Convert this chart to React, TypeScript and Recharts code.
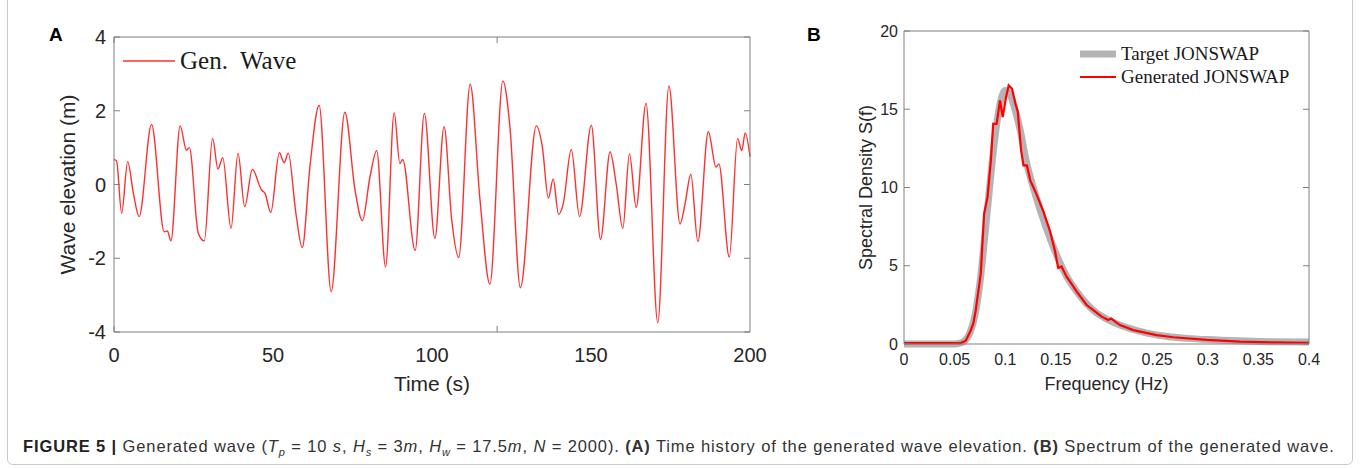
import { LineChart, Line, XAxis, YAxis, Label } from "recharts";

// (A) wave elevation time history at each crest / trough / shoulder
const waveTime = [
  0, 0.8, 2.4, 4.3, 6.1, 7.9, 11.8, 15.8, 16.8, 17.9, 20.8, 22.8, 23.7, 26.5, 28.4, 31.0, 32.7, 34.2,
  36.8, 39.0, 41.1, 43.5, 46.4, 47.5, 49.3, 52.0, 53.5, 54.8, 57.2, 59.2, 61.6, 64.5, 68.3, 72.6, 75.8,
  78.1, 80.5, 82.6, 85.4, 88.1, 89.9, 90.8, 94.7, 97.6, 100.9, 103.8, 106.2, 108.4, 112.0, 115.1, 118.2,
  122.3, 124.5, 127.8, 132.8, 134.7, 136.6, 138.1, 139.8, 141.3, 143.8, 146.4, 150.1, 153.0, 156.0, 157.9,
  160.0, 162.1, 164.2, 167.3, 171.0, 174.5, 178.0, 179.6, 181.4, 183.6, 186.9, 189.3, 190.2, 193.5, 196.1,
  197.4, 198.5, 200,
];
const waveElevation = [
  0.68, 0.64, -0.78, 0.62, -0.24, -0.87, 1.63, -1.28, -1.26, -1.53, 1.59, 0.93, 1.0, -1.32, -1.53, 1.25, 0.42, 0.73,
  -1.19, 0.85, -0.6, 0.41, -0.15, -0.24, -0.76, 0.86, 0.59, 0.85, -0.78, -1.71, 0.48, 2.15, -2.9, 1.96, -0.15,
  -0.98, 0.21, 0.92, -2.24, 1.95, 0.57, 0.68, -1.79, 1.93, -1.46, 1.57, -0.96, -1.98, 2.72, -0.42, -2.7,
  2.81, 1.57, -2.8, 1.59, 1.02, -0.37, 0.15, -0.81, -0.51, 0.95, -0.87, 1.61, -1.49, 0.89, 0.03,
  -1.19, 0.83, -0.62, 2.2, -3.75, 2.67, -1.07, -0.51, 0.28, -1.55, 1.43, 0.47, 0.56, -1.97, 1.25,
  0.92, 1.4, 0.75,
];
const timeTicks = [0, 50, 100, 150, 200];
const elevationTicks = [-4, -2, 0, 2, 4];

// (B) spectra
const targetFreq = [
  0, 0.05, 0.055, 0.06, 0.065, 0.07, 0.075, 0.08, 0.085, 0.09, 0.095, 0.1, 0.105, 0.11, 0.115, 0.12,
  0.13, 0.14, 0.15, 0.16, 0.17, 0.18, 0.19, 0.2, 0.22, 0.24, 0.26, 0.28, 0.3, 0.33, 0.36, 0.4,
];
const targetDensity = [
  0, 0, 0.05, 0.2, 0.7, 1.8, 3.9, 7.0, 10.3, 13.3, 15.4, 16.2, 15.9, 14.9, 13.6, 11.9,
  9.5, 7.5, 5.8, 4.4, 3.4, 2.6, 2.0, 1.6, 1.05, 0.7, 0.48, 0.36, 0.28, 0.2, 0.15, 0.12,
];
const genFreq = [
  0, 0.05, 0.056, 0.061, 0.0658, 0.0685, 0.0708, 0.0758, 0.0791, 0.0825, 0.0858, 0.0881, 0.0915, 0.0948,
  0.0975, 0.1008, 0.1034, 0.1067, 0.1101, 0.1124, 0.1157, 0.118, 0.1214, 0.1247, 0.1307, 0.1373, 0.144,
  0.149, 0.1523, 0.1556, 0.1606, 0.164, 0.1706, 0.1804, 0.187, 0.1952, 0.2018, 0.2045, 0.2133, 0.2265,
  0.2495, 0.266, 0.299, 0.332, 0.365, 0.4,
];
const genDensity = [
  0.05, 0.05, 0.06, 0.21, 0.85, 1.32, 2.13, 4.48, 8.32, 9.38, 11.73, 14.07, 14.07, 15.57,
  14.5, 15.78, 16.52, 16.31, 15.35, 14.82, 12.37, 11.41, 11.41, 10.45, 9.59, 8.53, 7.25,
  5.97, 4.86, 4.95, 4.3, 3.98, 3.34, 2.49, 2.17, 1.75, 1.53, 1.62, 1.21, 0.89,
  0.57, 0.43, 0.26, 0.15, 0.1, 0.08,
];
const freqTicks = [0, 0.05, 0.1, 0.15, 0.2, 0.25, 0.3, 0.35, 0.4];
const densityTicks = [0, 5, 10, 15, 20];

const waveData = waveTime.map((t, i) => ({ t, eta: waveElevation[i] }));
const targetData = targetFreq.map((f, i) => ({ f, s: targetDensity[i] }));
const genData = genFreq.map((f, i) => ({ f, s: genDensity[i] }));

const SANS = "'Liberation Sans', Arial, Helvetica, sans-serif";
const SERIF = "'Liberation Serif', 'Times New Roman', serif";
const axisStroke = { stroke: "#808080", strokeWidth: 1 };
const blank = () => "";

// MATLAB-style box: labelled axes outside, mirrored copies draw the inward ticks on all 4 sides
function boxAxes(xDomain: number[], xTicks: number[], yDomain: number[], yTicks: number[]) {
  const common = { type: "number" as const, allowDataOverflow: true, tickFormatter: blank, tickSize: 6, mirror: true, tickLine: axisStroke };
  return [
    <XAxis key="xb" xAxisId="xin" orientation="bottom" domain={xDomain} ticks={xTicks} height={6} axisLine={false} {...common} />,
    <XAxis key="xt" xAxisId="xtop" orientation="top" domain={xDomain} ticks={xTicks} height={6} axisLine={axisStroke} {...common} />,
    <YAxis key="yl" yAxisId="yin" orientation="left" domain={yDomain} ticks={yTicks} width={6} axisLine={false} {...common} />,
    <YAxis key="yr" yAxisId="yright" orientation="right" domain={yDomain} ticks={yTicks} width={6} axisLine={axisStroke} {...common} />,
  ];
}

function WavePanel() {
  const tick = { fill: "#262626", fontSize: 20, fontFamily: SANS };
  return (
    <LineChart width={780} height={440} data={waveData} margin={{ top: 37, right: 30, bottom: 4, left: 22 }}>
      <XAxis dataKey="t" type="number" domain={[0, 200]} ticks={timeTicks} height={104}
        tick={tick} tickSize={0} tickMargin={16} axisLine={axisStroke} tickLine={false}>
        <Label value="Time (s)" position="center" style={{ fill: "#262626", fontSize: 21, fontFamily: SANS }} />
      </XAxis>
      <YAxis type="number" domain={[-4, 4]} ticks={elevationTicks} width={92}
        tick={tick} tickSize={0} tickMargin={8} axisLine={axisStroke} tickLine={false}>
        <Label value="Wave elevation (m)" angle={-90} position="center" style={{ fill: "#262626", fontSize: 21, fontFamily: SANS }} />
      </YAxis>
      {boxAxes([0, 200], timeTicks, [-4, 4], elevationTicks)}
      <Line type="monotone" dataKey="eta" stroke="#ff3030" strokeWidth={1.4} dot={false} isAnimationActive={false} />
    </LineChart>
  );
}

function SpectrumPanel() {
  const tick = { fill: "#262626", fontSize: 16, fontFamily: SANS };
  return (
    <LineChart width={550} height={428} margin={{ top: 31, right: 31, bottom: 4, left: 38 }}>
      <XAxis dataKey="f" type="number" domain={[0, 0.4]} ticks={freqTicks} height={80}
        tick={tick} tickSize={0} tickMargin={10} axisLine={axisStroke} tickLine={false}>
        <Label value="Frequency (Hz)" position="center" style={{ fill: "#262626", fontSize: 18, fontFamily: SANS }} />
      </XAxis>
      <YAxis type="number" domain={[0, 20]} ticks={densityTicks} width={76}
        tick={tick} tickSize={0} tickMargin={6} axisLine={axisStroke} tickLine={false}>
        <Label value="Spectral Density S(f)" angle={-90} position="center" style={{ fill: "#262626", fontSize: 18, fontFamily: SANS }} />
      </YAxis>
      {boxAxes([0, 0.4], freqTicks, [0, 20], densityTicks)}
      <Line data={targetData} type="monotone" dataKey="s" stroke="#b4b4b4" strokeWidth={7} dot={false} isAnimationActive={false} />
      <Line data={genData} type="linear" dataKey="s" stroke="#ff0000" strokeWidth={2.2} dot={false} isAnimationActive={false} />
    </LineChart>
  );
}

const legendText = { position: "absolute" as const, fontFamily: SERIF, color: "#1a1a1a", whiteSpace: "nowrap" as const, lineHeight: 1 };
const subStyle = { fontSize: 11 };

export default function App() {
  return (
    <div style={{ position: "absolute", left: 0, top: 0, width: 1360, height: 469, background: "#fff", overflow: "hidden" }}>
      <div style={{ position: "absolute", left: 7, top: -10, width: 1346, height: 475, boxSizing: "border-box", border: "1px solid #c9c9c9", borderRadius: 6 }} />

      <div style={{ position: "absolute", left: 0, top: 0 }}><WavePanel /></div>
      <div style={{ position: "absolute", left: 790, top: 0 }}><SpectrumPanel /></div>

      <div style={{ position: "absolute", left: 49, top: 24, fontFamily: SANS, fontWeight: 700, fontSize: 19 }}>A</div>
      <div style={{ position: "absolute", left: 807, top: 24, fontFamily: SANS, fontWeight: 700, fontSize: 19 }}>B</div>

      {/* legend A */}
      <svg style={{ position: "absolute", left: 120, top: 56 }} width={60} height={10}>
        <line x1={3} y1={5} x2={55} y2={5} stroke="#ff3030" strokeWidth={1.4} />
      </svg>
      <div style={{ ...legendText, left: 180, top: 48, fontSize: 25 }}>Gen.&nbsp; Wave</div>

      {/* legend B */}
      <svg style={{ position: "absolute", left: 1078, top: 44 }} width={42} height={40}>
        <line x1={2} y1={10} x2={38} y2={10} stroke="#b4b4b4" strokeWidth={7} />
        <line x1={2} y1={33} x2={38} y2={33} stroke="#ff0000" strokeWidth={2.2} />
      </svg>
      <div style={{ ...legendText, left: 1121, top: 44, fontSize: 19 }}>Target JONSWAP</div>
      <div style={{ ...legendText, left: 1121, top: 67, fontSize: 19 }}>Generated JONSWAP</div>

      <div style={{ position: "absolute", left: 23, top: 437, fontFamily: SANS, fontSize: 16.5, letterSpacing: 0.88, color: "#333", whiteSpace: "nowrap" }}>
        <b style={{ color: "#222" }}>FIGURE 5 |</b> Generated wave (<i>T</i><sub style={subStyle}><i>p</i></sub> = 10 <i>s</i>, <i>H</i><sub style={subStyle}><i>s</i></sub> = 3<i>m</i>, <i>H</i><sub style={subStyle}><i>w</i></sub> = 17.5<i>m</i>, <i>N</i> = 2000). <b>(A)</b> Time history of the generated wave elevation. <b>(B)</b> Spectrum of the generated wave.
      </div>
    </div>
  );
}
